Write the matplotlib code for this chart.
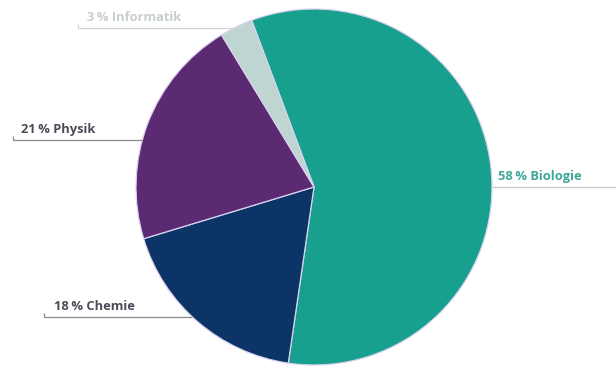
import matplotlib
matplotlib.use("Agg")
import matplotlib.pyplot as plt
import numpy as np

# data
subjects = ["Biologie", "Chemie", "Physik", "Informatik"]
shares = [58, 18, 21, 3]
colors = ["#17a08e", "#0c3466", "#5c2a72", "#bfd5d1"]
text_colors = ["#3ea698", "#4b4b58", "#4b4b58", "#c6cfcd"]
line_colors = ["#c4c8c8", "#8a8a90", "#8a8a90", "#d0d4d4"]

# layout (pixel space, y from top)
W, H = 616, 369
CX, CY, R = 314, 187, 178
label_layout = [
    {"y": 187, "side": "right", "x_end": 616, "tx": 498},
    {"y": 317, "side": "left", "x_end": 44, "tx": 54},
    {"y": 140, "side": "left", "x_end": 13, "tx": 21},
    {"y": 28, "side": "left", "x_end": 78, "tx": 87},
]

plt.rcParams["font.family"] = ["Open Sans", "DejaVu Sans"]

fig = plt.figure(figsize=(W / 100, H / 100), dpi=100)
ax = fig.add_axes([0, 0, 1, 1])

ax.pie(
    shares,
    colors=colors,
    center=(CX, H - CY),
    radius=R,
    startangle=110.5,
    counterclock=False,
    wedgeprops={"edgecolor": "#d9d2ee", "linewidth": 0.9},
    frame=True,
)
ax.set_xlim(0, W)
ax.set_ylim(0, H)
ax.set_aspect("equal")
ax.axis("off")

for name, val, tc, lc, lay in zip(subjects, shares, text_colors, line_colors, label_layout):
    y = H - lay["y"]
    dy = lay["y"] - CY
    dx = np.sqrt(max(R ** 2 - dy ** 2, 0))
    if lay["side"] == "right":
        x0, x1 = CX + dx, lay["x_end"]
    else:
        x0, x1 = lay["x_end"], CX - dx
        # small hook at the left end
        ax.plot([x0, x0], [y, y + 4], color=lc, lw=0.9, solid_capstyle="butt")
    ax.plot([x0, x1], [y, y], color=lc, lw=0.9, solid_capstyle="butt")
    ax.text(lay["tx"], y + 4, f"{val}\u2009% {name}", color=tc,
            fontsize=9.3, fontweight="bold", ha="left", va="bottom")

fig.savefig("out.png", dpi=100, facecolor="white")
